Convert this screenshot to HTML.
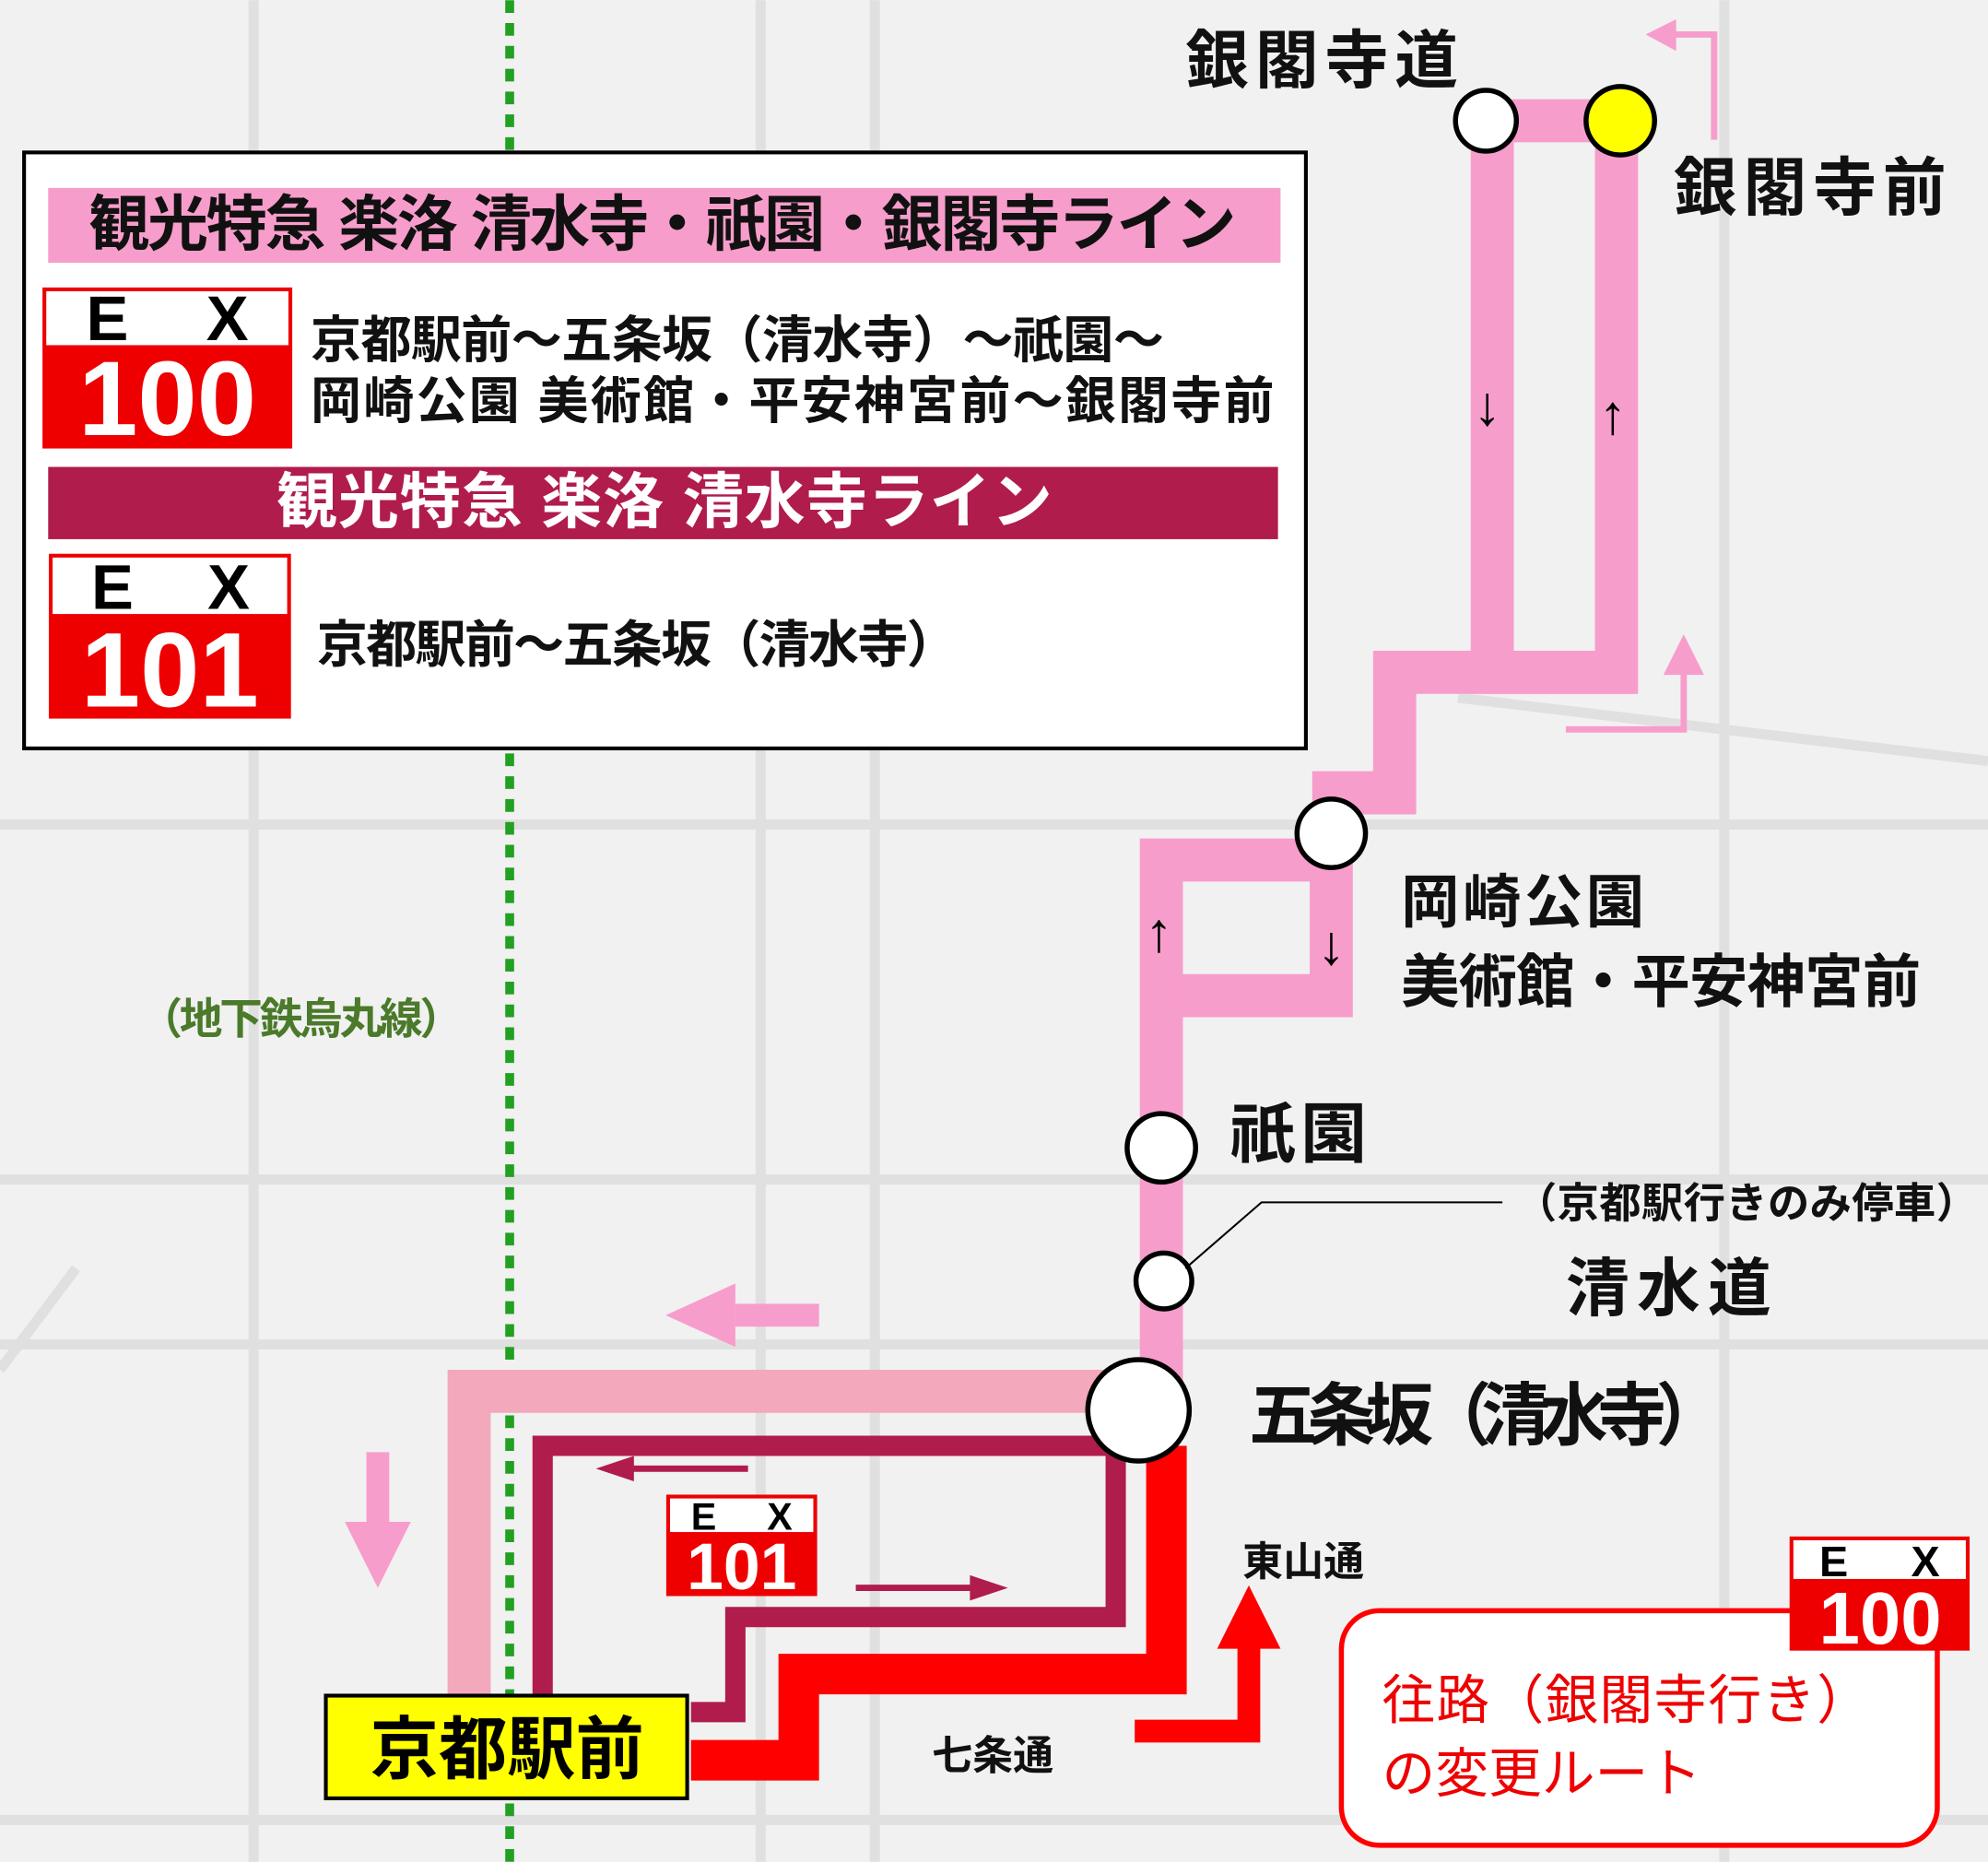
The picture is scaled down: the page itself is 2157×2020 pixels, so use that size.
<!DOCTYPE html>
<html><head><meta charset="utf-8"><style>
html,body{margin:0;padding:0;background:#f2f2f2}
svg{display:block}
text{font-family:"Liberation Sans","Noto Sans CJK JP",sans-serif}
</style></head><body>
<svg width="2157" height="2020" viewBox="0 0 1568 1468" xmlns="http://www.w3.org/2000/svg">
<rect width="1568" height="1468" fill="#f1f1f1"/>
<g stroke="#e0e0e0" stroke-width="8" fill="none">
<line x1="0" y1="650" x2="1568" y2="650"/><line x1="0" y1="930" x2="1568" y2="930"/>
<line x1="0" y1="1060" x2="1568" y2="1060"/><line x1="0" y1="1435" x2="1568" y2="1435"/>
<line x1="690" y1="0" x2="690" y2="1468"/><line x1="600" y1="0" x2="600" y2="1468"/>
<line x1="1360" y1="0" x2="1360" y2="1468"/><line x1="200" y1="0" x2="200" y2="1468"/>
<line x1="60" y1="1000" x2="0" y2="1080"/><line x1="1150" y1="550" x2="1568" y2="600"/>
</g>
<line x1="402" y1="0" x2="402" y2="1468" stroke="#22a022" stroke-width="7" stroke-dasharray="10,8"/>
<text x="110" y="815" font-size="34" fill="#4a7a2a" font-weight="bold" textLength="255">（地下鉄烏丸線）</text>

<g fill="none" stroke="#f79dcb" stroke-width="34" stroke-linejoin="miter">
<polyline points="1177,95 1177,530 1275,530 1275,95 1177,95"/>
<polyline points="1290,530 1100,530 1100,625 1035,625"/>
<polyline points="1050,657 1050,785 916,785"/>
<polyline points="1050,678 916,678 916,1110"/>
</g>
<polyline points="898,1097 370,1097 370,1345" fill="none" stroke="#f3a8bc" stroke-width="34"/>
<polyline points="428,1340 428,1140 880,1140 880,1275 580,1275 580,1350 545,1350" fill="none" stroke="#b01c4c" stroke-width="16"/>
<polyline points="545,1388 630,1388 630,1320 920,1320 920,1140" fill="none" stroke="#ff0000" stroke-width="32"/>
<polyline points="895,1365 985,1365 985,1290" fill="none" stroke="#ff0000" stroke-width="18"/>
<polygon points="960,1300 1010,1300 985,1250" fill="#ff0000"/>

<g stroke="#f79dcb" fill="none" stroke-width="5">
<polyline points="1352,110 1352,27 1320,27"/><polyline points="1235,575 1328,575 1328,530"/>
</g>
<polygon points="1322,15 1322,40 1298,27" fill="#f79dcb"/>
<polygon points="1312,532 1344,532 1328,500" fill="#f79dcb"/>
<rect x="580" y="1028" width="66" height="18" fill="#f79dcb"/><polygon points="580,1012 580,1062 525,1037" fill="#f79dcb"/>
<rect x="289" y="1145" width="18" height="60" fill="#f79dcb"/><polygon points="272,1200 324,1200 298,1252" fill="#f79dcb"/>
<line x1="590" y1="1158" x2="495" y2="1158" stroke="#b01c4c" stroke-width="5"/><polygon points="500,1148 500,1168 470,1158" fill="#b01c4c"/>
<line x1="675" y1="1252" x2="770" y2="1252" stroke="#b01c4c" stroke-width="5"/><polygon points="765,1242 765,1262 795,1252" fill="#b01c4c"/>
<g font-size="44" fill="#000"><text x="1162" y="335">↓</text><text x="1261" y="342">↑</text><text x="903" y="750">↑</text><text x="1039" y="760">↓</text></g>

<g stroke="#000" stroke-width="4" fill="#fff">
<circle cx="1172" cy="95" r="24"/><circle cx="1278" cy="95" r="27" fill="#ffff00"/>
<circle cx="1050" cy="657" r="27"/><circle cx="916" cy="905" r="27"/>
<circle cx="918" cy="1010" r="22"/><circle cx="898" cy="1112" r="40"/>
</g>
<polyline points="935,1000 995,948 1185,948" fill="none" stroke="#000" stroke-width="1.5"/>

<g font-weight="bold" fill="#111">
<text x="935" y="65" font-size="50" textLength="215">銀閣寺道</text>
<text x="1320" y="165" font-size="50" textLength="215">銀閣寺前</text>
<text x="1105" y="727" font-size="46" textLength="192">岡崎公園</text>
<text x="1105" y="790" font-size="46" textLength="410">美術館・平安神宮前</text>
<text x="970" y="912" font-size="52" textLength="108">祇園</text>
<text x="1195" y="960" font-size="33" textLength="365">（京都駅行きのみ停車）</text>
<text x="1235" y="1033" font-size="50" textLength="162">清水道</text>
<text x="985" y="1135" font-size="54" textLength="375">五条坂（清水寺）</text>
<text x="980" y="1242" font-size="32">東山通</text>
<text x="735" y="1395" font-size="32">七条通</text>
</g>
<rect x="257" y="1337" width="285" height="81" fill="#ffff00" stroke="#000" stroke-width="3"/>
<text x="292" y="1398" font-size="54" font-weight="bold" fill="#000">京都駅前</text>

<rect x="527" y="1180" width="116" height="77" fill="#fff" stroke="#e00" stroke-width="3"/>
<rect x="527" y="1208" width="116" height="49" fill="#e00"/>
<text x="545" y="1206" font-size="30" font-weight="bold" fill="#000" textLength="80">EX</text>
<text x="585" y="1253" font-size="52" font-weight="bold" text-anchor="middle" fill="#fff">101</text>

<rect x="1058" y="1270" width="470" height="185" rx="30" fill="#fff" stroke="#ff0000" stroke-width="4"/>
<text x="1090" y="1355" font-size="42" fill="#e00" textLength="385">往路（銀閣寺行き）</text>
<text x="1090" y="1413" font-size="42" fill="#e00">の変更ルート</text>
<rect x="1413" y="1213" width="139" height="87" fill="#fff" stroke="#e00" stroke-width="3"/>
<rect x="1413" y="1245" width="139" height="55" fill="#e00"/>
<text x="1435" y="1243" font-size="34" font-weight="bold" fill="#000" textLength="95">EX</text>
<text x="1483" y="1296" font-size="58" font-weight="bold" text-anchor="middle" fill="#fff">100</text>

<rect x="19" y="120" width="1011" height="470" fill="#fff" stroke="#000" stroke-width="3"/>
<rect x="38" y="148" width="972" height="59" fill="#f79dcb"/>
<text x="70" y="193" font-size="48" font-weight="bold" fill="#111" textLength="905">観光特急 楽洛 清水寺・祇園・銀閣寺ライン</text>
<rect x="35" y="228" width="194" height="124" fill="#fff" stroke="#e00" stroke-width="3"/>
<rect x="35" y="272" width="194" height="80" fill="#e00"/>
<text x="68" y="268" font-size="50" font-weight="bold" fill="#000" textLength="128">EX</text>
<text x="132" y="343" font-size="84" font-weight="bold" text-anchor="middle" fill="#fff">100</text>
<text x="245" y="282" font-size="40" fill="#111" font-weight="bold" textLength="673">京都駅前～五条坂（清水寺）～祇園～</text>
<text x="245" y="330" font-size="40" fill="#111" font-weight="bold" textLength="760">岡崎公園 美術館・平安神宮前～銀閣寺前</text>
<rect x="38" y="368" width="970" height="57" fill="#b01c4c"/>
<text x="218" y="412" font-size="48" font-weight="bold" fill="#fff" textLength="612">観光特急 楽洛 清水寺ライン</text>
<rect x="40" y="438" width="188" height="127" fill="#fff" stroke="#e00" stroke-width="3"/>
<rect x="40" y="484" width="188" height="81" fill="#e00"/>
<text x="72" y="480" font-size="50" font-weight="bold" fill="#000" textLength="125">EX</text>
<text x="134" y="557" font-size="84" font-weight="bold" text-anchor="middle" fill="#fff">101</text>
<text x="250" y="522" font-size="40" fill="#111" font-weight="bold" textLength="505">京都駅前～五条坂（清水寺）</text>
</svg>
</body></html>
